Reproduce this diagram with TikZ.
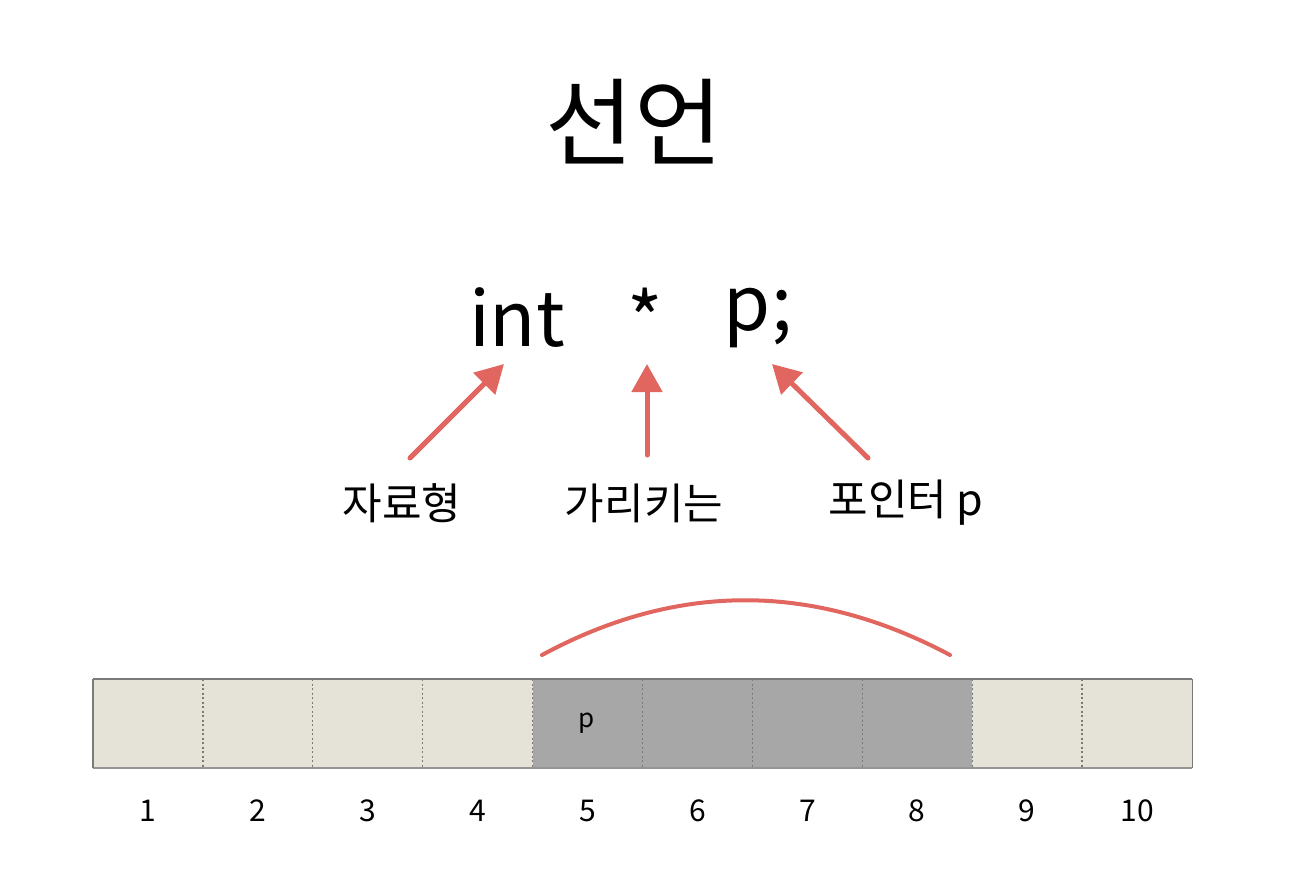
\documentclass[tikz,border=0pt]{standalone}
\usepackage{fontspec}
\setmainfont{Noto Sans CJK KR}
\usetikzlibrary{arrows.meta}
\definecolor{redpen}{HTML}{E0665F}
\definecolor{lightcell}{HTML}{E5E3D8}
\definecolor{darkcell}{HTML}{A6A7A6}
\definecolor{edgegray}{HTML}{7A7A7A}
\tikzset{
  cellbox/.style={minimum width=110pt,minimum height=89pt,inner sep=0pt,outer sep=0pt,anchor=north west},
  numlabel/.style={font=\fontsize{30}{30}\selectfont,anchor=center},
  codetext/.style={font=\fontsize{76}{76}\selectfont},
  krlabel/.style={font=\fontsize{43}{43}\selectfont},
  pen/.style={draw=redpen,line width=5pt,line cap=round},
  penarrow/.style={pen,-{Triangle[length=28pt,width=30pt]}},
  sep/.style={draw=edgegray,line width=1.3pt,dash pattern=on 2pt off 2.5pt},
}
\begin{document}
\begin{tikzpicture}[x=1pt,y=-1pt]
\useasboundingbox (0,0) rectangle (1296,894);
% title
\node (title) at (634,122) {\fontsize{96}{96}\selectfont 선언};
% declaration
\node[codetext] (int) at (517,318) {int};
\node[codetext] (star) at (645,318) {*};
\node[codetext] (pp) at (758,318) {p;};
% labels
\node[krlabel] (l1) at (402,503) {자료형};
\node[krlabel] (l2) at (644,503) {가리키는};
\node[krlabel] (l3) at (906,503) {포인터 p};
% arrow endpoints
\coordinate (a1s) at (410,458);
\coordinate (a1e) at (504,364);
\coordinate (a2s) at (647,455);
\coordinate (a2e) at (647,364);
\coordinate (a3s) at (868,458);
\coordinate (a3e) at (772,364);
\draw[penarrow] (a1s) -- (a1e);
\draw[penarrow] (a2s) -- (a2e);
\draw[penarrow] (a3s) -- (a3e);
% cells
\foreach \i/\c in {1/lightcell,2/lightcell,3/lightcell,4/lightcell,5/darkcell,6/darkcell,7/darkcell,8/darkcell,9/lightcell,10/lightcell}{
  \node[cellbox,fill=\c] (c\i) at ({93+(\i-1)*109.9},679) {};
  \node[numlabel] (n\i) at ({148+(\i-1)*109.9},811) {\i};
}
\foreach \i in {2,...,10}{
  \draw[sep] (c\i.north west) -- (c\i.south west);
}
\draw[draw=edgegray,line width=1.5pt] (c1.north west) -- (c10.north east);
\draw[draw=edgegray!80,line width=1.2pt] (c1.south west) -- (c10.south east);
\draw[draw=edgegray,line width=1.2pt] (c1.north west) -- (c1.south west);
\draw[draw=edgegray,line width=1.2pt] (c10.north east) -- (c10.south east);
\node (pcell) at (587,723) {\fontsize{26}{26}\selectfont p};
% arc
\coordinate (arcs) at (542,655);
\coordinate (arce) at (950,655);
\draw[pen,line width=4pt] (arcs) .. controls (677,582) and (813,582) .. (arce);
\end{tikzpicture}
\end{document}
